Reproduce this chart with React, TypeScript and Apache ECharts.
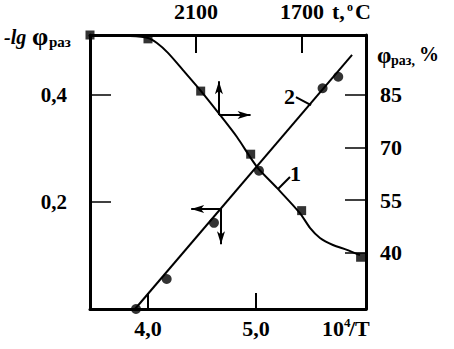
import React, { useEffect, useRef } from "react";
import * as echarts from "echarts";

// Curve 1 (squares, right axis, φраз %)
const curve1PointsX = [3.463, 4.0, 4.488, 4.951, 5.423, 5.969];
const curve1PointsY = [102.1, 101.0, 86.1, 68.1, 52.0, 38.7];
const curve1LineX = [3.463, 3.833, 4.0, 4.083, 4.185, 4.324, 4.491, 4.667, 4.824, 5.009, 5.194, 5.407, 5.5, 5.593, 5.713, 5.843, 5.963];
const curve1LineY = [102.1, 101.8, 101.25, 99.8, 97.0, 92.1, 86.1, 79.3, 73.0, 64.5, 58.5, 51.3, 47.1, 44.2, 42.2, 40.8, 39.3];
// Curve 2 (circles, left axis, -lg φраз)
const curve2PointsX = [3.889, 4.173, 4.611, 5.028, 5.617, 5.762];
const curve2PointsY = [0.0, 0.056, 0.161, 0.2585, 0.4125, 0.434];
const curve2LineX = [3.88, 5.89];
const curve2LineY = [0.0, 0.475];
// Tick labels
const bottomTicks = [4.0, 5.0];
const topTicks = [2100, 1700];
const leftTicks = [0.2, 0.4];
const rightTicks = [40, 55, 70, 85];

const FONT = "'Liberation Serif', 'DejaVu Serif', serif";
const zip = (xs: number[], ys: number[]) => xs.map((x, i) => [x, ys[i]]);
const comma = (v: number, d: number) => v.toFixed(d).replace(".", ",");

const lineStyle = { color: "#000", width: 3 };
const labelBase = { fontFamily: FONT, fontSize: 22, fontWeight: "bold" as const, color: "#000" };

const arrowEnd = (x: number, y: number) => ({ coord: [x, y], symbol: "arrow", symbolSize: [6, 13] });
const plainEnd = (x: number, y: number) => ({ coord: [x, y], symbol: "none" });

function txt(text: string, x: number, y: number, size: number, extra: any = {}) {
  return {
    type: "text",
    x,
    y,
    style: {
      text,
      fontFamily: FONT,
      fontSize: size,
      fontWeight: "bold",
      fill: "#000",
      textAlign: "left",
      textVerticalAlign: "middle",
      ...extra,
    },
  };
}

export default function App() {
  const ref = useRef<HTMLDivElement>(null);
  useEffect(() => {
    if (!ref.current) return;
    const chart = echarts.init(ref.current, undefined, { renderer: "svg" });
    chart.setOption({
      animation: false,
      backgroundColor: "#fff",
      grid: { left: 90, right: 88, top: 35, bottom: 40, containLabel: false, outerBoundsMode: "none" },
      xAxis: [
        {
          type: "value",
          position: "bottom",
          min: 3.463,
          max: 6.019,
          axisLine: { show: true, lineStyle },
          axisTick: { show: true, inside: true, length: 16, customValues: bottomTicks, lineStyle: { color: "#000", width: 2 } },
          axisLabel: { ...labelBase, customValues: bottomTicks, margin: 8, formatter: (v: number) => comma(v, 1) },
          splitLine: { show: false },
        },
        {
          type: "value",
          position: "top",
          min: 1458,
          max: 2500,
          inverse: true,
          axisLine: { show: true, lineStyle },
          axisTick: { show: true, inside: true, length: 18, customValues: topTicks, lineStyle: { color: "#000", width: 2 } },
          axisLabel: { ...labelBase, customValues: topTicks, margin: 13, formatter: (v: number) => String(v) },
          splitLine: { show: false },
        },
      ],
      yAxis: [
        {
          type: "value",
          position: "left",
          min: 0,
          max: 0.512,
          axisLine: { show: true, lineStyle },
          axisTick: { show: true, inside: true, length: 21, customValues: leftTicks, lineStyle: { color: "#000", width: 1.5 } },
          axisLabel: { ...labelBase, fontSize: 21, customValues: leftTicks, margin: 23, formatter: (v: number) => comma(v, 1) },
          splitLine: { show: false },
        },
        {
          type: "value",
          position: "right",
          min: 23.94,
          max: 102.1,
          axisLine: { show: true, lineStyle },
          axisTick: { show: true, inside: true, length: 21, customValues: rightTicks, lineStyle: { color: "#000", width: 1.5 } },
          axisLabel: { ...labelBase, customValues: rightTicks, margin: 14, formatter: (v: number) => String(v) },
          splitLine: { show: false },
        },
      ],
      series: [
        {
          type: "line",
          xAxisIndex: 0,
          yAxisIndex: 1,
          data: zip(curve1LineX, curve1LineY),
          showSymbol: false,
          smooth: 0.25,
          lineStyle: { color: "#000", width: 2 },
          silent: true,
          markLine: {
            silent: true,
            animation: false,
            label: { show: false },
            lineStyle: { color: "#000", width: 2, type: "solid" },
            data: [
              [plainEnd(4.657, 79.29), arrowEnd(4.657, 88.9)],
              [plainEnd(4.657, 79.29), arrowEnd(4.95, 79.29)],
              [plainEnd(5.204, 58.17), plainEnd(5.315, 61.6)],
            ],
          },
        },
        {
          type: "scatter",
          xAxisIndex: 0,
          yAxisIndex: 1,
          data: zip(curve1PointsX, curve1PointsY),
          symbol: "rect",
          symbolSize: 9,
          itemStyle: { color: "#000" },
          clip: false,
          silent: true,
        },
        {
          type: "line",
          xAxisIndex: 0,
          yAxisIndex: 0,
          data: zip(curve2LineX, curve2LineY),
          showSymbol: false,
          lineStyle: { color: "#000", width: 2 },
          silent: true,
          markLine: {
            silent: true,
            animation: false,
            label: { show: false },
            lineStyle: { color: "#000", width: 2, type: "solid" },
            data: [
              [plainEnd(4.676, 0.187), arrowEnd(4.4, 0.187)],
              [plainEnd(4.676, 0.187), arrowEnd(4.676, 0.121)],
              [plainEnd(5.37, 0.396), plainEnd(5.51, 0.381)],
            ],
          },
        },
        {
          type: "scatter",
          xAxisIndex: 0,
          yAxisIndex: 0,
          data: zip(curve2PointsX, curve2PointsY),
          symbol: "circle",
          symbolSize: 10,
          itemStyle: { color: "#000" },
          clip: false,
          silent: true,
        },
      ],
      graphic: [
        // left axis title: -lg φраз
        txt("-lg", 4, 37, 20, { fontStyle: "italic" }),
        txt("φ", 32, 36, 26),
        txt("раз", 49, 42, 15),
        // right axis title: φраз,%
        txt("φ", 377, 55, 23),
        txt("раз,", 391, 60, 14),
        txt("%", 419, 54, 20),
        // top axis title: t,°C
        txt("t,", 332, 11, 22),
        txt("o", 347, 7, 12),
        txt("C", 355, 11, 22),
        // bottom axis title: 10⁴/T
        txt("10", 322, 328, 22),
        txt("4", 344, 322, 13),
        txt("/T", 349, 328, 22),
        // curve labels
        txt("2", 284, 96, 22),
        txt("1", 290, 173, 22),
      ],
    });
    return () => chart.dispose();
  }, []);
  return <div ref={ref} style={{ position: "fixed", left: 0, top: 0, width: 454, height: 349, background: "#fff" }} />;
}
